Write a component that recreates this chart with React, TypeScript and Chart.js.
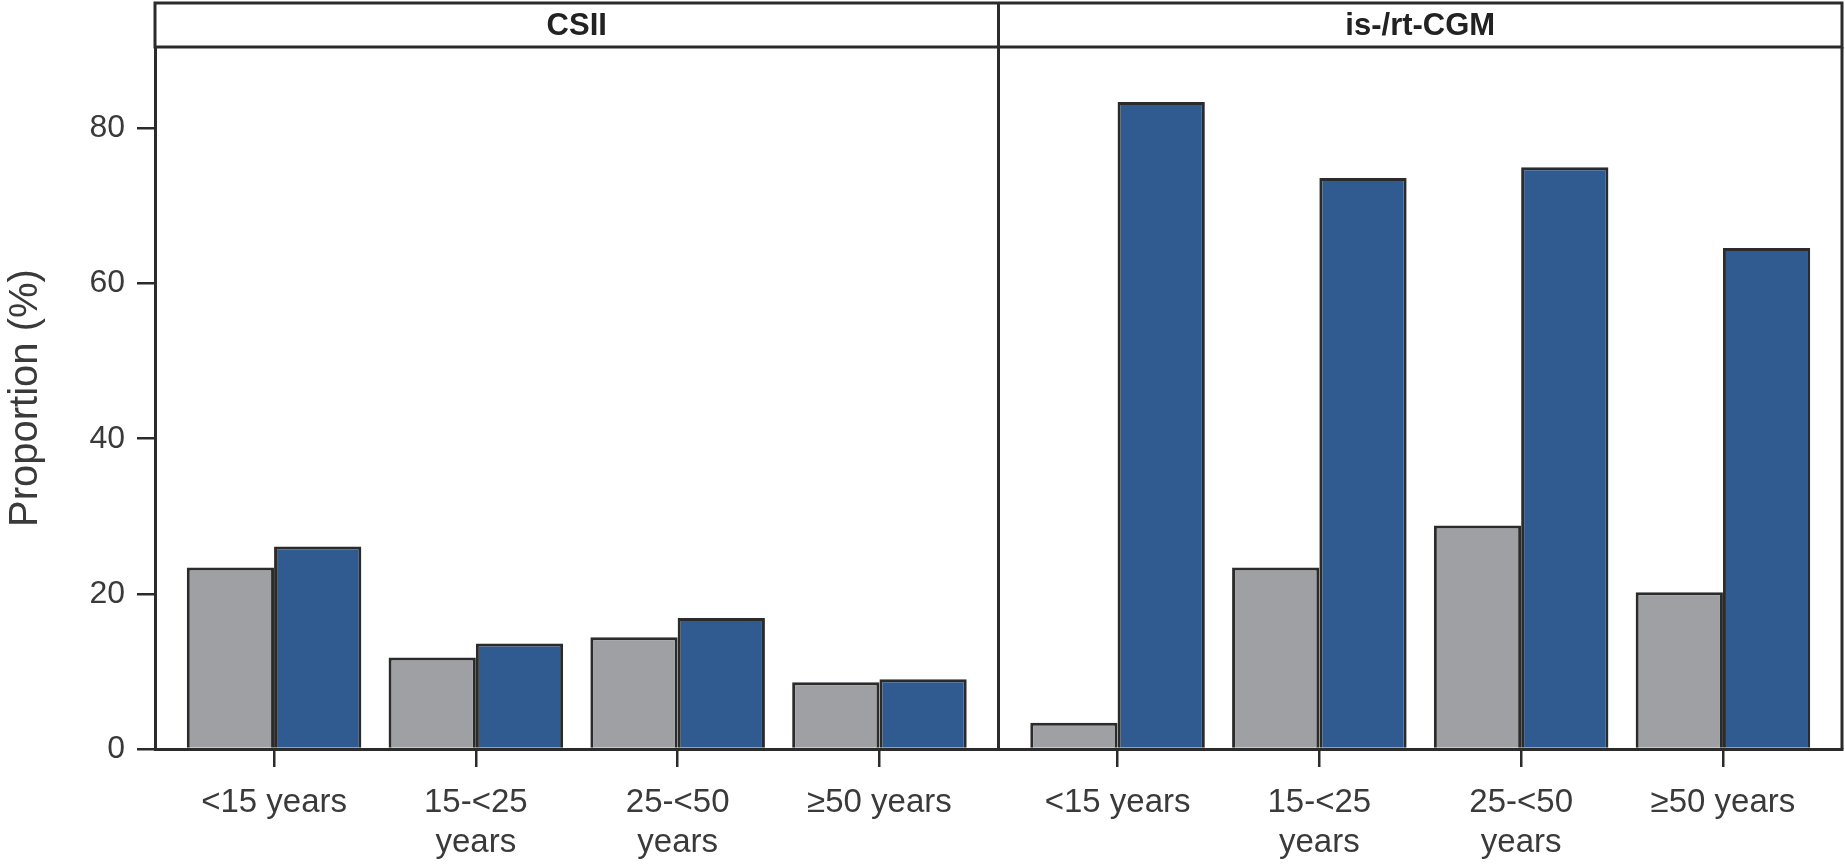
import React, { useEffect, useRef } from "react";
import { Chart, registerables } from "chart.js";

Chart.register(...registerables);

// ---- data ----
const panels = ["CSII", "is-/rt-CGM"];
const ageGroups: (string | string[])[] = [
  "<15 years",
  ["15-<25", "years"],
  ["25-<50", "years"],
  "≥50 years",
];
const csiiGray = [23.4, 11.8, 14.4, 8.6];
const csiiBlue = [26.1, 13.6, 16.9, 9.0];
const cgmGray = [3.4, 23.4, 28.8, 20.2];
const cgmBlue = [83.4, 73.6, 75.0, 64.6];
const yTickValues = [0, 20, 40, 60, 80];
const yAxisMax = 90.5;
const yAxisTitle = "Proportion (%)";

// ---- layout helpers (category slots on a linear axis) ----
const PAD = 0.59;
const PANEL_SPAN = 3 + 2 * PAD;
const slot = (panel: number, i: number) => panel * PANEL_SPAN + i;
const slots = [0, 1].flatMap((p) => ageGroups.map((_, i) => slot(p, i)));
const slotLabels = [0, 1].flatMap(() => ageGroups);

const grayPts = [...csiiGray, ...cgmGray].map((y, k) => ({ x: slots[k], y }));
const bluePts = [...csiiBlue, ...cgmBlue].map((y, k) => ({ x: slots[k], y }));

const FONT = "'Liberation Sans', Arial, Helvetica, sans-serif";
const TEXT = "#3a3a3a";
const LINE = "#2b2b2b";

const panelPlugin = {
  id: "panelStrips",
  afterDraw(chart: any) {
    const { ctx, chartArea } = chart;
    const xs = chart.scales.x;
    const top = 3;
    const left = chartArea.left;
    const right = chartArea.right;
    const divX = xs.getPixelForValue(3 + PAD);
    ctx.save();
    ctx.strokeStyle = LINE;
    ctx.lineWidth = 3;
    // header strip
    ctx.strokeRect(left, top, right - left, chartArea.top - top);
    // divider
    ctx.beginPath();
    ctx.moveTo(divX, top);
    ctx.lineTo(divX, chartArea.bottom);
    ctx.stroke();
    // right border
    ctx.beginPath();
    ctx.moveTo(right, chartArea.top);
    ctx.lineTo(right, chartArea.bottom);
    ctx.stroke();
    // panel titles
    ctx.fillStyle = "#222";
    ctx.font = `bold 31px ${FONT}`;
    ctx.textAlign = "center";
    ctx.textBaseline = "middle";
    const midY = (top + chartArea.top) / 2 + 1;
    ctx.fillText(panels[0], (left + divX) / 2, midY);
    ctx.fillText(panels[1], (divX + right) / 2, midY);
    ctx.restore();
  },
};

export default function App() {
  const ref = useRef<HTMLCanvasElement | null>(null);

  useEffect(() => {
    document.body.style.margin = "0";
    const canvas = ref.current;
    if (!canvas) return;
    const chart = new Chart(canvas, {
      type: "bar",
      data: {
        datasets: [
          {
            label: "Series 1",
            data: grayPts,
            backgroundColor: "#9fa0a4",
            borderColor: LINE,
            borderWidth: 3,
            categoryPercentage: 0.865,
            barPercentage: 1.0,
          },
          {
            label: "Series 2",
            data: bluePts,
            backgroundColor: "#2f5b91",
            borderColor: LINE,
            borderWidth: 3,
            categoryPercentage: 0.865,
            barPercentage: 1.0,
          },
        ],
      },
      options: {
        animation: false,
        responsive: false,
        maintainAspectRatio: false,
        layout: { padding: { top: 47, right: 3, left: 0, bottom: 0 } },
        plugins: {
          legend: { display: false },
          tooltip: { enabled: false },
        },
        scales: {
          x: {
            type: "linear",
            offset: false,
            min: -PAD,
            max: slot(1, 3) + PAD,
            afterBuildTicks: (s: any) => {
              s.ticks = slots.map((v) => ({ value: v }));
            },
            afterFit: (s: any) => {
              s.height = 116;
            },
            grid: {
              offset: false,
              drawOnChartArea: false,
              drawTicks: true,
              tickLength: 18,
              color: LINE,
              lineWidth: 2.5,
            },
            border: { display: true, color: LINE, width: 3 },
            ticks: {
              autoSkip: false,
              maxRotation: 0,
              minRotation: 0,
              padding: 16,
              color: TEXT,
              font: { family: FONT, size: 33, lineHeight: 1.22 },
              callback: (_v: any, i: number) => slotLabels[i],
            },
          },
          y: {
            type: "linear",
            min: 0,
            max: yAxisMax,
            afterBuildTicks: (s: any) => {
              s.ticks = yTickValues.map((v) => ({ value: v }));
            },
            afterFit: (s: any) => {
              s.width = 155;
            },
            grid: {
              drawOnChartArea: false,
              drawTicks: true,
              tickLength: 18,
              color: LINE,
              lineWidth: 2.5,
            },
            border: { display: true, color: LINE, width: 3 },
            ticks: {
              padding: 12,
              color: TEXT,
              font: { family: FONT, size: 32 },
            },
            title: {
              display: true,
              text: yAxisTitle,
              color: TEXT,
              padding: { top: 2, bottom: 0 },
              font: { family: FONT, size: 40 },
            },
          },
        },
      },
      plugins: [panelPlugin],
    } as any);
    return () => chart.destroy();
  }, []);

  return (
    <div style={{ width: 1845, height: 865, background: "#fff" }}>
      <canvas ref={ref} width={1845} height={865} style={{ display: "block" }} />
    </div>
  );
}
